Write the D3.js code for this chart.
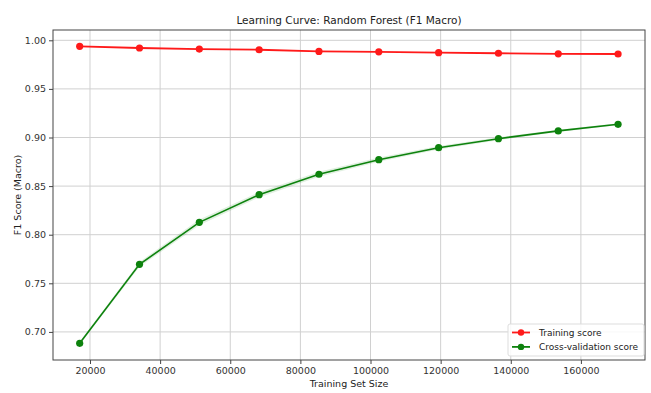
<!DOCTYPE html>
<html>
<head>
<meta charset="utf-8">
<script src="https://cdn.jsdelivr.net/npm/d3@7"></script>
<style>
  body { margin: 0; background: #fff; }
  svg { display: block; font-family: "DejaVu Sans", sans-serif; }
</style>
</head>
<body>
<svg id="chart" width="651" height="393"></svg>
<script>
const trainSizes = [17060, 34120, 51180, 68240, 85300, 102360, 119420, 136480, 153540, 170600];
const trainScores = [0.9938, 0.9921, 0.9910, 0.9903, 0.9886, 0.9881, 0.9873, 0.9867, 0.9861, 0.9859];
const trainStd = [0.0005, 0.0005, 0.0004, 0.0004, 0.0004, 0.0004, 0.0003, 0.0003, 0.0003, 0.0003];
const cvScores = [0.6883, 0.7695, 0.8127, 0.8412, 0.8622, 0.8772, 0.8895, 0.8988, 0.9068, 0.9136];
const cvStd = [0.0015, 0.0025, 0.0030, 0.0028, 0.0025, 0.0022, 0.0018, 0.0015, 0.0012, 0.0010];
const xTicks = [20000, 40000, 60000, 80000, 100000, 120000, 140000, 160000];
const yTicks = [0.70, 0.75, 0.80, 0.85, 0.90, 0.95, 1.00];
const seriesNames = ["Training score", "Cross-validation score"];

const svg = d3.select("#chart");
const m = { left: 53, right: 645, top: 30, bottom: 360 };
const x = d3.scaleLinear().domain([9450, 178280]).range([m.left, m.right]);
const y = d3.scaleLinear().domain([0.6711, 1.0106]).range([m.bottom, m.top]);

// grid
svg.append("g").selectAll("line").data(xTicks).join("line")
  .attr("x1", d => x(d)).attr("x2", d => x(d)).attr("y1", m.top).attr("y2", m.bottom)
  .attr("stroke", "#d0d0d0").attr("stroke-width", 1);
svg.append("g").selectAll("line").data(yTicks).join("line")
  .attr("x1", m.left).attr("x2", m.right).attr("y1", d => y(d)).attr("y2", d => y(d))
  .attr("stroke", "#d0d0d0").attr("stroke-width", 1);

// axes
const xAxis = d3.axisBottom(x).tickValues(xTicks).tickFormat(d3.format("d")).tickSize(4).tickPadding(3);
const yAxis = d3.axisLeft(y).tickValues(yTicks).tickFormat(d3.format(".2f")).tickSize(4).tickPadding(3);
const gx = svg.append("g").attr("transform", `translate(0,${m.bottom})`).call(xAxis);
const gy = svg.append("g").attr("transform", `translate(${m.left},0)`).call(yAxis);
[gx, gy].forEach(g => {
  g.select(".domain").remove();
  g.selectAll("line").attr("stroke", "#444");
  g.selectAll("text").attr("fill", "#333").attr("font-size", 9.5).attr("font-family", "DejaVu Sans");
});

// bands
const data = trainSizes.map((s, i) => ({ s, t: trainScores[i], ts: trainStd[i], c: cvScores[i], cs: cvStd[i] }));
svg.append("path").datum(data)
  .attr("d", d3.area().x(d => x(d.s)).y0(d => y(d.t - d.ts)).y1(d => y(d.t + d.ts)))
  .attr("fill", "red").attr("opacity", 0.1);
svg.append("path").datum(data)
  .attr("d", d3.area().x(d => x(d.s)).y0(d => y(d.c - d.cs)).y1(d => y(d.c + d.cs)))
  .attr("fill", "green").attr("opacity", 0.12);

// lines
const colors = ["#ff1a1a", "#0d820d"];
svg.append("path").datum(data).attr("d", d3.line().x(d => x(d.s)).y(d => y(d.t)))
  .attr("fill", "none").attr("stroke", colors[0]).attr("stroke-width", 1.8);
svg.append("path").datum(data).attr("d", d3.line().x(d => x(d.s)).y(d => y(d.c)))
  .attr("fill", "none").attr("stroke", colors[1]).attr("stroke-width", 1.6);
svg.append("g").selectAll("circle").data(data).join("circle")
  .attr("cx", d => x(d.s)).attr("cy", d => y(d.t)).attr("r", 3.6).attr("fill", colors[0]);
svg.append("g").selectAll("circle").data(data).join("circle")
  .attr("cx", d => x(d.s)).attr("cy", d => y(d.c)).attr("r", 3.6).attr("fill", colors[1]);

// frame
svg.append("rect").attr("x", m.left).attr("y", m.top)
  .attr("width", m.right - m.left).attr("height", m.bottom - m.top)
  .attr("fill", "none").attr("stroke", "#444").attr("stroke-width", 1);

// title & labels
svg.append("text").attr("x", (m.left + m.right) / 2).attr("y", 24).attr("text-anchor", "middle")
  .attr("font-size", 10.5).attr("fill", "#222").text("Learning Curve: Random Forest (F1 Macro)");
svg.append("text").attr("x", (m.left + m.right) / 2).attr("y", 387).attr("text-anchor", "middle")
  .attr("font-size", 9.5).attr("fill", "#222").text("Training Set Size");
svg.append("text").attr("transform", `translate(21,${(m.top + m.bottom) / 2}) rotate(-90)`)
  .attr("text-anchor", "middle").attr("font-size", 9.5).attr("fill", "#222").text("F1 Score (Macro)");

// legend
const lg = svg.append("g").attr("transform", "translate(508,324)");
lg.append("rect").attr("width", 136).attr("height", 32).attr("rx", 2)
  .attr("fill", "#fff").attr("fill-opacity", 0.85).attr("stroke", "#ddd");
seriesNames.forEach((name, i) => {
  const yy = 8.5 + i * 14.4;
  lg.append("line").attr("x1", 4).attr("x2", 22).attr("y1", yy).attr("y2", yy)
    .attr("stroke", colors[i]).attr("stroke-width", 1.8);
  lg.append("circle").attr("cx", 13).attr("cy", yy).attr("r", 3.2).attr("fill", colors[i]);
  lg.append("text").attr("x", 31).attr("y", yy + 3.2).attr("font-size", 9).attr("fill", "#222").text(name);
});
</script>
</body>
</html>
